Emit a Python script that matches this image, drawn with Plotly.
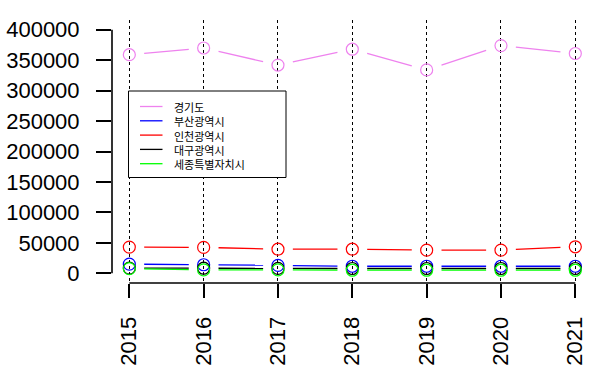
import plotly.graph_objects as go

years = [2015, 2016, 2017, 2018, 2019, 2020, 2021]
series_names = ["경기도", "부산광역시", "인천광역시", "대구광역시", "세종특별자치시"]
gyeonggi = [359000, 370000, 342000, 368000, 334000, 374000, 361000]
busan = [15000, 14000, 13000, 11500, 11500, 11500, 11500]
incheon = [43000, 42500, 39500, 39500, 38000, 38000, 43500]
daegu = [8500, 8300, 8000, 7800, 7800, 7800, 7800]
sejong = [7500, 5500, 5500, 5000, 5000, 5000, 5000]
series_values = [gyeonggi, busan, incheon, daegu, sejong]
colors = ["#EE82EE", "#0000FF", "#FF0000", "#000000", "#00FF00"]
y_ticks = [0, 50000, 100000, 150000, 200000, 250000, 300000, 350000, 400000]

W, H = 596, 376
ML, MR, MT, MB = 112, 3, 20, 93
PW, PH = W - ML - MR, H - MT - MB

def px(x):
    return (x - ML) / PW

def py(y):
    return 1 - (y - MT) / PH

fig = go.Figure()

gap = 0.2  # fraction of each interval left blank near points (R type="b")
for name, vals, col in zip(series_names, series_values, colors):
    xs, ys = [], []
    for i in range(len(years) - 1):
        x0, x1 = years[i], years[i + 1]
        y0, y1 = vals[i], vals[i + 1]
        xs += [x0 + gap * (x1 - x0), x0 + (1 - gap) * (x1 - x0), None]
        ys += [y0 + gap * (y1 - y0), y0 + (1 - gap) * (y1 - y0), None]
    fig.add_trace(go.Scatter(x=xs, y=ys, mode="lines", line=dict(color=col, width=1.3),
                             showlegend=False, hoverinfo="skip"))
    fig.add_trace(go.Scatter(x=years, y=vals, mode="markers", name=name,
                             marker=dict(symbol="circle-open", size=12, color=col,
                                         line=dict(width=1.2, color=col)),
                             showlegend=False))

fig.update_xaxes(range=[2014.767, 2021.238], tickvals=years, ticktext=[str(y) for y in years],
                 tickangle=-90, ticks="outside", ticklen=14, tickwidth=1.6, tickcolor="black",
                 showline=False, zeroline=False, showgrid=True, gridcolor="black",
                 griddash="3px,3px", gridwidth=1, ticklabelstandoff=10, automargin=False,
                 tickfont=dict(family="Liberation Sans, Arial", size=22, color="black"))
fig.update_yaxes(range=[-16000, 416000], tickvals=y_ticks, ticktext=[str(v) for v in y_ticks],
                 ticks="outside", ticklen=15, tickwidth=1.6, tickcolor="black",
                 showline=False, zeroline=False, showgrid=False, ticklabelstandoff=12,
                 automargin=False,
                 tickfont=dict(family="Liberation Sans, Arial", size=22, color="black"))

# axis lines (R style: spanning the tick range only)
fig.add_shape(type="line", xref="paper", yref="y", x0=0, x1=0, y0=y_ticks[0], y1=y_ticks[-1],
              line=dict(color="black", width=1.6))
fig.add_shape(type="line", xref="x", yref="paper", x0=years[0], x1=years[-1], y0=0, y1=0,
              line=dict(color="black", width=1.6))

# legend box
fig.add_shape(type="rect", xref="paper", yref="paper", x0=px(128.5), x1=px(286), y0=py(177.5), y1=py(91),
              line=dict(color="black", width=1), fillcolor="white", layer="above")
row_y = [106.5 + 14.3 * i for i in range(len(series_names))]
for yy, col in zip(row_y, colors):
    fig.add_shape(type="line", xref="paper", yref="paper", x0=px(140), x1=px(162.5), y0=py(yy), y1=py(yy),
                  line=dict(color=col, width=1.3), layer="above")
fig.add_annotation(x=px(171.5), y=py((row_y[0] + row_y[-1]) / 2), xref="paper", yref="paper",
                   text="<br>".join(series_names), showarrow=False, align="left",
                   xanchor="left", yanchor="middle",
                   font=dict(family="Noto Sans CJK KR", size=11, color="black"))

fig.update_layout(width=W, height=H, margin=dict(l=ML, r=MR, t=MT, b=MB),
                  paper_bgcolor="white", plot_bgcolor="white", showlegend=False)

fig.write_html("out.html", config={"displayModeBar": False},
               post_script="document.body.style.margin='0';")
